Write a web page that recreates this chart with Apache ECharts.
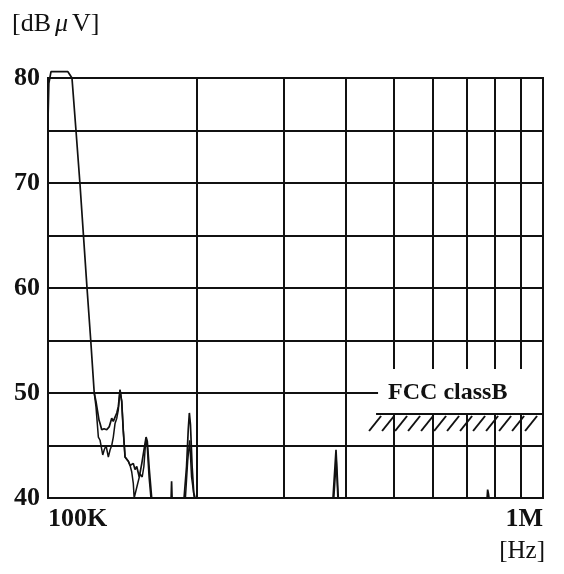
<!DOCTYPE html>
<html>
<head>
<meta charset="utf-8">
<script src="https://cdn.jsdelivr.net/npm/echarts@6/dist/echarts.min.js"></script>
<style>
  html, body { margin: 0; padding: 0; background: #fff; }
  #chart { width: 564px; height: 574px; }
</style>
</head>
<body>
<div id="chart"></div>
<script>
// Conducted emission sweep, 100 kHz – 1 MHz (frequencies in kHz, levels in dBµV)

// Peak trace
const peakFreqKHz = [100, 100.4, 101.4, 109.7, 111.8, 113.9, 116.0, 119.9, 122.0, 124.0,
  125.0, 125.8, 126.8, 127.4, 128.4, 129.8, 131.4, 133.0, 134.5, 135.5,
  136.6, 137.7, 138.7, 139.8, 140.9, 141.9, 143.1, 144.2, 145.3, 146.5,
  147.6, 148.7, 149.9, 151.1, 152.9, 154.7, 155.8, 157.8, 158.7, 160.2,
  162.0, 177.3, 177.7, 178.1, 188.3, 190.5, 192.0, 193.0, 194.0, 195.5,
  197.0, 198.2, 376.5, 381.8, 385.9, 771, 773, 776, 778, 1000];
const peakLevel = [76, 79.5, 80.6, 80.6, 80, 75, 70, 60, 55, 50,
  49.2, 48.4, 47.4, 47.1, 46.5, 46.6, 46.5, 46.8, 47.6, 47.3,
  47.7, 48.1, 48.7, 50.3, 49.2, 46.5, 43.9, 43.8, 43.5, 43.1,
  43.0, 43.3, 42.7, 43.0, 42.0, 43.3, 43.3, 45.8, 45.4, 42.7,
  40, 40, 41.6, 40, 40, 43, 46.5, 48.1, 47, 43,
  40.5, 40, 40, 44.6, 40, 40, 40.8, 40.4, 40, 40];

// Second (lower) trace, splits off from the peak trace below 50 dB
const lowFreqKHz = [124.0, 125.0, 126.4, 127.4, 129.0, 129.9, 131.0, 132.4, 133.5, 134.5,
  135.5, 136.6, 137.7, 138.7, 139.8, 140.9, 141.9, 143.1, 144.2, 145.3,
  146.5, 147.6, 148.7, 149.3, 150.6, 152.0, 153.5, 155.0, 156.2, 157.6,
  158.6, 160.0, 161.4, 189.5, 191.5, 193.3, 195.0, 197.5, 378.0, 382.3, 385.0];
const lowLevel = [50, 48.7, 45.8, 45.5, 44.1, 44.6, 45.0, 43.9, 44.6, 45.0,
  45.8, 47.1, 47.6, 48.4, 50.3, 49.2, 46.5, 43.9, 43.8, 43.5,
  43.1, 42.5, 41.4, 40, 40, 41.5, 42.3, 42.0, 43.0, 45.5,
  45.0, 42.0, 40, 40, 43.5, 45.5, 42, 40, 40, 43.6, 40];

// Intermediate frequency grid lines (Hz)
const minorGridHz = [200000, 300000, 400000, 500000, 600000, 700000, 800000, 900000];

// FCC class B limit segment: start (Hz), level (dBµV), end (Hz)
const limitStartHz = 460000;
const limitEndHz = 1000000;
const limitLevel = 48;
const limitName = 'FCC classB';

// Axis range and tick labels
const freqMin = 100000, freqMax = 1000000;
const levelMin = 40, levelMax = 80, levelStep = 5;
const freqTickLabels = { 100000: '100K', 1000000: '1M' };

const ink = '#111';
const serif = '"Liberation Serif", "DejaVu Serif", serif';

const toPairs = (fk, lv) => fk.map((f, i) => [f * 1000, lv[i]]);

const chart = echarts.init(document.getElementById('chart'), null, { renderer: 'canvas' });

chart.setOption({
  animation: false,
  backgroundColor: '#fff',
  grid: {
    left: 48, right: 21, top: 78, bottom: 76,
    show: true, borderColor: ink, borderWidth: 2
  },
  graphic: [
    {
      type: 'text', left: 12, top: 11,
      style: {
        text: '{a|[dB}{m|μ}{a|V]}',
        rich: {
          a: { fontFamily: serif, fontSize: 26, fill: ink },
          m: { fontFamily: serif, fontSize: 26, fontStyle: 'italic', fill: ink, padding: [0, 4, 0, 4] }
        }
      }
    },
    {
      type: 'text', right: 19, top: 539,
      style: { text: '[Hz]', fontFamily: serif, fontSize: 25, fill: ink }
    }
  ],
  xAxis: {
    type: 'log', logBase: 10, min: freqMin, max: freqMax,
    axisLine: { show: true, lineStyle: { color: ink, width: 2 } },
    axisTick: { show: false },
    splitLine: { show: false },
    axisLabel: {
      margin: 8,
      fontFamily: serif, fontSize: 26, fontWeight: 'bold', color: ink,
      alignMinLabel: 'left', alignMaxLabel: 'right',
      formatter: v => freqTickLabels[Math.round(v)] || ''
    }
  },
  yAxis: {
    type: 'value', min: levelMin, max: levelMax, interval: levelStep,
    axisLine: { show: true, lineStyle: { color: ink, width: 2 } },
    axisTick: { show: false },
    splitLine: { show: true, lineStyle: { color: ink, width: 2 } },
    axisLabel: {
      margin: 8,
      fontFamily: serif, fontSize: 26, fontWeight: 'bold', color: ink,
      formatter: v => (v % 10 === 0 ? String(v) : '')
    }
  },
  series: [
    {
      type: 'line', name: 'peak', z: 3,
      data: toPairs(peakFreqKHz, peakLevel),
      showSymbol: false, clip: false, silent: true,
      lineStyle: { color: ink, width: 1.7 },
      markLine: {
        silent: true, symbol: ['none', 'none'],
        label: { show: false },
        lineStyle: { color: ink, width: 2, type: 'solid' },
        data: minorGridHz.map(f => ({ xAxis: f }))
      }
    },
    {
      type: 'line', name: 'low', z: 3,
      data: toPairs(lowFreqKHz, lowLevel),
      showSymbol: false, clip: false, silent: true,
      lineStyle: { color: ink, width: 1.5 }
    },
    {
      type: 'custom', name: limitName, z: 6, silent: true, clip: false,
      data: [[limitStartHz, limitLevel, limitEndHz]],
      encode: { x: [0, 2], y: 1 },
      renderItem: (params, api) => {
        const p0 = api.coord([api.value(0), api.value(1)]);
        const p1 = api.coord([api.value(2), api.value(1)]);
        const children = [
          // blank field behind the limit name
          { type: 'rect', shape: { x: p0[0] + 2, y: p0[1] - 45, width: p1[0] - p0[0] - 3, height: 44 },
            style: { fill: '#fff' } },
          { type: 'line', shape: { x1: p0[0], y1: p0[1], x2: p1[0], y2: p1[1] },
            style: { stroke: ink, lineWidth: 2.2 } }
        ];
        // hatching under the limit line
        for (let x = p0[0] - 7; x < p1[0] - 12; x += 13) {
          children.push({ type: 'line', shape: { x1: x, y1: p0[1] + 17, x2: x + 12, y2: p0[1] + 2 },
            style: { stroke: ink, lineWidth: 2 } });
        }
        children.push({ type: 'text',
          style: { text: limitName, x: p0[0] + 12, y: p0[1] - 21, verticalAlign: 'middle',
            fontFamily: serif, fontSize: 24, fontWeight: 'bold', fill: ink } });
        return { type: 'group', children };
      }
    }
  ]
});
</script>
</body>
</html>
